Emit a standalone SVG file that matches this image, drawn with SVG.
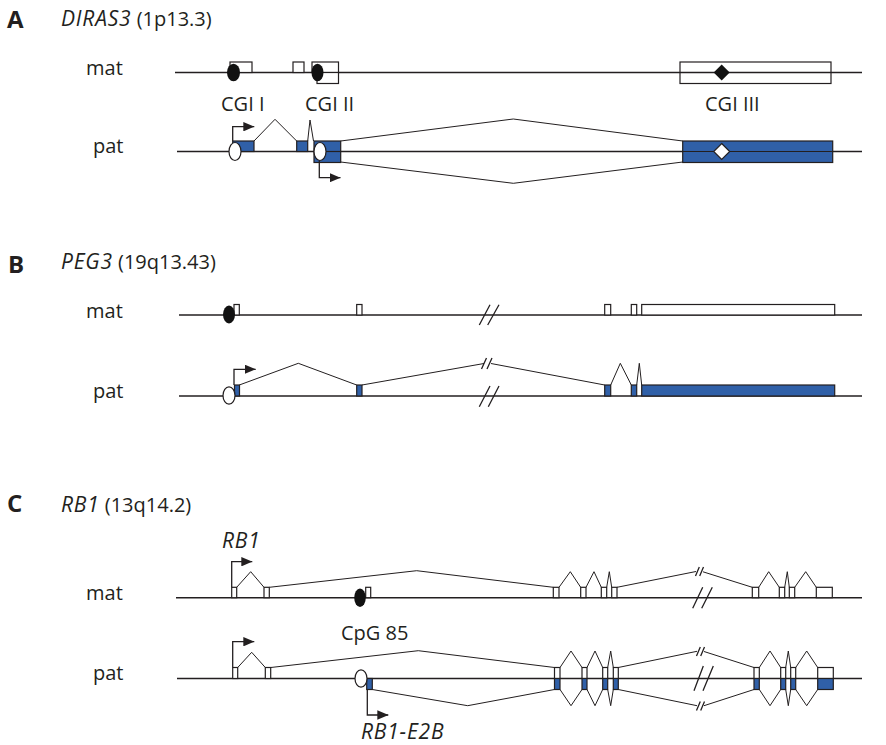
<svg xmlns="http://www.w3.org/2000/svg" width="886" height="745" viewBox="0 0 886 745">
  <defs>
    <style>
      text { font-family: "Open Sans", "Liberation Sans", sans-serif; font-size: 20px; fill: #231f20; }
      .panel { font-weight: bold; font-size: 24px; }
      .it { font-style: italic; font-size: 21px; letter-spacing: 0.8px; }
      .chr { stroke: #231f20; stroke-width: 1.5; fill: none; }
      .spl { stroke: #231f20; stroke-width: 1; fill: none; }
      .brk { stroke: #231f20; stroke-width: 1.3; fill: none; }
      .ex { fill: #ffffff; stroke: #231f20; stroke-width: 1.2; }
      .box { fill: none; stroke: #231f20; stroke-width: 1.2; }
      .exb { fill: #3060a8; stroke: #231f20; stroke-width: 1.2; }
      .mid { stroke: #231f20; stroke-width: 1.2; fill: none; }
      .meth { fill: #111111; }
      .unm { fill: #ffffff; stroke: #231f20; stroke-width: 1.2; }
      .tss { stroke: #231f20; stroke-width: 1.3; fill: none; marker-end: url(#arr); }
    </style>
    <marker id="arr" markerUnits="userSpaceOnUse" viewBox="0 0 11 9.4" markerWidth="11" markerHeight="9.4" refX="11" refY="4.7" orient="auto">
      <path d="M0,0 L11,4.7 L0,9.4 z" fill="#231f20"/>
    </marker>
  </defs>

  <!-- panel titles and track labels -->
  <g id="labels">
    <text class="panel" x="7" y="28">A</text>
    <text x="61" y="26"><tspan class="it">DIRAS3</tspan> (1p13.3)</text>
    <text x="86" y="75">mat</text>
    <text x="93" y="153">pat</text>
    <text x="221" y="111">CGI I</text>
    <text x="305" y="111">CGI II</text>
    <text x="705" y="111">CGI III</text>

    <text class="panel" x="8" y="273">B</text>
    <text x="61" y="269"><tspan class="it">PEG3</tspan> (19q13.43)</text>
    <text x="86" y="318">mat</text>
    <text x="93" y="398">pat</text>

    <text class="panel" x="7" y="512">C</text>
    <text x="61" y="512"><tspan class="it">RB1</tspan> (13q14.2)</text>
    <text class="it" x="222" y="548">RB1</text>
    <text x="86" y="600">mat</text>
    <text x="93" y="680">pat</text>
    <text x="341" y="640">CpG 85</text>
    <text class="it" x="361" y="739">RB1-E2B</text>
  </g>

  <!-- splice connectors -->
  <g id="connectors">
    <!-- DIRAS3 paternal -->
    <path class="spl" d="M254,141 L275,119.3 L296.7,141"/>
    <path class="spl" d="M307.7,141 L310,120 L313.5,141"/>
    <path class="spl" d="M340.7,141 L513.3,119 L682.7,141"/>
    <path class="spl" d="M340.7,162 L513.3,183.3 L682.7,162"/>
    <!-- PEG3 paternal -->
    <path class="spl" d="M239.3,385 L298.3,363.3 L356.7,385"/>
    <path class="spl" d="M362,385 L484,363.5"/>
    <path class="spl" d="M491,363.5 L604.7,385"/>
    <path class="brk" d="M481.5,369 L486.5,358 M487,369 L492,358"/>
    <path class="spl" d="M610.7,385 L620.3,363.3 L631.3,385"/>
    <path class="spl" d="M636.7,385 L639.3,363.3 L641.7,385"/>
    <!-- RB1 maternal -->
    <path class="spl" d="M236.7,587.3 L250.7,571.7 L264,587.3"/>
    <path class="spl" d="M269.3,587.3 L416.7,570.7 L553.3,587.3"/>
    <path class="spl" d="M559,587.3 L570.3,571.7 L580.7,587.3"/>
    <path class="spl" d="M586,587.3 L594,571.7 L601.3,587.3"/>
    <path class="spl" d="M606.7,587.3 L609.3,571.7 L611.7,587.3"/>
    <path class="spl" d="M617,587.3 L696,571.5"/>
    <path class="spl" d="M703,571.8 L752.3,587.3"/>
    <path class="brk" d="M695.5,576 L699.3,567 M699.7,576 L703.5,567"/>
    <path class="spl" d="M758.7,587.3 L768.7,571.7 L779.3,587.3"/>
    <path class="spl" d="M784.7,587.3 L787.3,571.7 L789.3,587.3"/>
    <path class="spl" d="M794.7,587.3 L805.7,571.7 L816.3,587.3"/>
    <!-- RB1 paternal, upper isoform -->
    <path class="spl" d="M237.7,667.5 L251.7,652.3 L265.3,667.5"/>
    <path class="spl" d="M270.7,667.5 L418.3,650.7 L554.5,667.5"/>
    <path class="spl" d="M560,667.5 L571,651 L582,667.5"/>
    <path class="spl" d="M587,667.5 L595,651 L602.7,667.5"/>
    <path class="spl" d="M607.7,667.5 L610.7,651 L613.3,667.5"/>
    <path class="spl" d="M618.3,667.5 L697,651.3"/>
    <path class="spl" d="M704,651.5 L754,667.5"/>
    <path class="brk" d="M696.5,656 L700.3,647 M700.7,656 L704.5,647"/>
    <path class="spl" d="M759.3,667.5 L770,651 L780.7,667.5"/>
    <path class="spl" d="M785.7,667.5 L788.3,651 L790.7,667.5"/>
    <path class="spl" d="M795.7,667.5 L806.7,651 L817.7,667.5"/>
    <!-- RB1 paternal, lower isoform -->
    <path class="spl" d="M372.3,689.5 L467.7,705.7 L554.5,689.5"/>
    <path class="spl" d="M560,689.5 L571,705.7 L582,689.5"/>
    <path class="spl" d="M587,689.5 L595,705.7 L602.7,689.5"/>
    <path class="spl" d="M607.7,689.5 L610.7,705.7 L613.3,689.5"/>
    <path class="spl" d="M618.3,689.5 L697,705.7"/>
    <path class="spl" d="M704,705.7 L754,689.5"/>
    <path class="brk" d="M696.5,710.5 L700.3,701.5 M700.7,710.5 L704.5,701.5"/>
    <path class="spl" d="M759.3,689.5 L770,705.7 L780.7,689.5"/>
    <path class="spl" d="M785.7,689.5 L788.3,705.7 L790.7,689.5"/>
    <path class="spl" d="M795.7,689.5 L806.7,705.7 L817.7,689.5"/>
  </g>

  <!-- A: DIRAS3 maternal allele -->
  <g id="diras3-mat">
    <path class="chr" d="M175,72.5 H862"/>
    <rect class="ex" x="230" y="62" width="22" height="10.5"/>
    <ellipse class="meth" cx="233.5" cy="72.5" rx="6.5" ry="8.7"/>
    <rect class="ex" x="293" y="62" width="11" height="10.5"/>
    <rect class="ex" x="312" y="62" width="26.5" height="10.5"/>
    <rect class="ex" x="317" y="72.5" width="21.5" height="11"/>
    <ellipse class="meth" cx="317.5" cy="72.5" rx="6" ry="8.7"/>
    <rect class="box" x="680" y="62" width="151" height="21.5"/>
    <path class="meth" d="M721.7,64.5 L729.7,72.5 L721.7,80.5 L713.7,72.5 z"/>
  </g>

  <!-- A: DIRAS3 paternal allele -->
  <g id="diras3-pat">
    <path class="chr" d="M177,151.5 H862"/>
    <rect class="exb" x="232.7" y="141" width="21.3" height="10.5"/>
    <path class="tss" d="M232.7,141 V126.7 H254.3"/>
    <ellipse class="unm" cx="235" cy="151.5" rx="6" ry="9"/>
    <rect class="exb" x="296.7" y="141" width="11" height="10.5"/>
    <rect class="exb" x="314" y="141" width="26.7" height="21.5"/>
    <path class="mid" d="M314,151.5 H340.7"/>
    <ellipse class="unm" cx="320" cy="151.5" rx="6" ry="9"/>
    <path class="tss" d="M319.3,160.5 V177.7 H340.5"/>
    <rect class="exb" x="682.7" y="141" width="150" height="21.5"/>
    <path class="mid" d="M682.7,151.5 H832.7"/>
    <path class="unm" d="M721.7,143.5 L729.7,151.5 L721.7,159.5 L713.7,151.5 z"/>
  </g>

  <!-- B: PEG3 maternal allele -->
  <g id="peg3-mat">
    <path class="chr" d="M179,315 H862"/>
    <rect class="ex" x="234" y="304.5" width="5.3" height="10.5"/>
    <ellipse class="meth" cx="229" cy="314.5" rx="6" ry="9"/>
    <rect class="ex" x="356.7" y="304.5" width="5.3" height="10.5"/>
    <rect class="ex" x="604.7" y="304.5" width="6" height="10.5"/>
    <rect class="ex" x="631.3" y="304.5" width="5.4" height="10.5"/>
    <rect class="ex" x="641.7" y="304.5" width="193" height="10.5"/>
    <path class="brk" d="M479.3,325 L490,304.7 M487.7,325 L499,304.7"/>
  </g>

  <!-- B: PEG3 paternal allele -->
  <g id="peg3-pat">
    <path class="chr" d="M179,396 H862"/>
    <rect class="exb" x="234.5" y="385" width="5" height="11"/>
    <path class="tss" d="M234,385 V369.3 H255.7"/>
    <ellipse class="unm" cx="229" cy="395.5" rx="6" ry="8.7"/>
    <rect class="exb" x="356.7" y="385" width="5.3" height="11"/>
    <rect class="exb" x="604.7" y="385" width="6" height="11"/>
    <rect class="exb" x="631.3" y="385" width="5.4" height="11"/>
    <rect class="exb" x="641.7" y="385" width="193" height="11"/>
    <path class="brk" d="M479.3,406.7 L490,386 M488.3,406.7 L499,386"/>
  </g>

  <!-- C: RB1 maternal allele -->
  <g id="rb1-mat">
    <path class="chr" d="M176,597.7 H862"/>
    <rect class="ex" x="231.7" y="587.3" width="5" height="10.4"/>
    <path class="tss" d="M231.7,587.3 V561.7 H252.3"/>
    <rect class="ex" x="264" y="587.3" width="5.3" height="10.4"/>
    <rect class="ex" x="365.7" y="587.3" width="5" height="10.4"/>
    <ellipse class="meth" cx="360" cy="597.7" rx="5.8" ry="9.2"/>
    <rect class="ex" x="553.3" y="587.3" width="5.7" height="10.4"/>
    <rect class="ex" x="580.7" y="587.3" width="5.3" height="10.4"/>
    <rect class="ex" x="601.3" y="587.3" width="5.4" height="10.4"/>
    <rect class="ex" x="611.7" y="587.3" width="5.3" height="10.4"/>
    <rect class="ex" x="752.3" y="587.3" width="6.4" height="10.4"/>
    <rect class="ex" x="779.3" y="587.3" width="5.4" height="10.4"/>
    <rect class="ex" x="789.3" y="587.3" width="5.4" height="10.4"/>
    <rect class="ex" x="816.3" y="587.3" width="16" height="10.4"/>
    <path class="brk" d="M692.7,608.3 L702.7,587.3 M701.7,608.3 L712.3,587.3"/>
  </g>

  <!-- C: RB1 paternal allele -->
  <g id="rb1-pat">
    <path class="chr" d="M177,678.5 H862"/>
    <rect class="ex" x="232.7" y="667.5" width="5" height="11"/>
    <path class="tss" d="M232.7,667.5 V641.7 H254.3"/>
    <rect class="ex" x="265.3" y="667.5" width="5.4" height="11"/>
    <rect class="exb" x="366.7" y="678.5" width="5.6" height="11"/>
    <ellipse class="unm" cx="361" cy="678.5" rx="6" ry="8.7"/>
    <path class="tss" d="M367.3,689.5 V715 H388.3"/>
    <g id="rb1-pat-exons">
      <rect class="ex" x="554.5" y="667.5" width="5.5" height="11"/>
      <rect class="exb" x="554.5" y="678.5" width="5.5" height="11"/>
      <rect class="ex" x="582" y="667.5" width="5" height="11"/>
      <rect class="exb" x="582" y="678.5" width="5" height="11"/>
      <rect class="ex" x="602.7" y="667.5" width="5" height="11"/>
      <rect class="exb" x="602.7" y="678.5" width="5" height="11"/>
      <rect class="ex" x="613.3" y="667.5" width="5" height="11"/>
      <rect class="exb" x="613.3" y="678.5" width="5" height="11"/>
      <rect class="ex" x="754" y="667.5" width="5.3" height="11"/>
      <rect class="exb" x="754" y="678.5" width="5.3" height="11"/>
      <rect class="ex" x="780.7" y="667.5" width="5" height="11"/>
      <rect class="exb" x="780.7" y="678.5" width="5" height="11"/>
      <rect class="ex" x="790.7" y="667.5" width="5" height="11"/>
      <rect class="exb" x="790.7" y="678.5" width="5" height="11"/>
      <rect class="ex" x="817.7" y="667.5" width="15.6" height="11"/>
      <rect class="exb" x="817.7" y="678.5" width="15.6" height="11"/>
    </g>
    <path class="brk" d="M694,690.7 L703.3,666 M703,690.7 L713.3,666"/>
  </g>
</svg>
